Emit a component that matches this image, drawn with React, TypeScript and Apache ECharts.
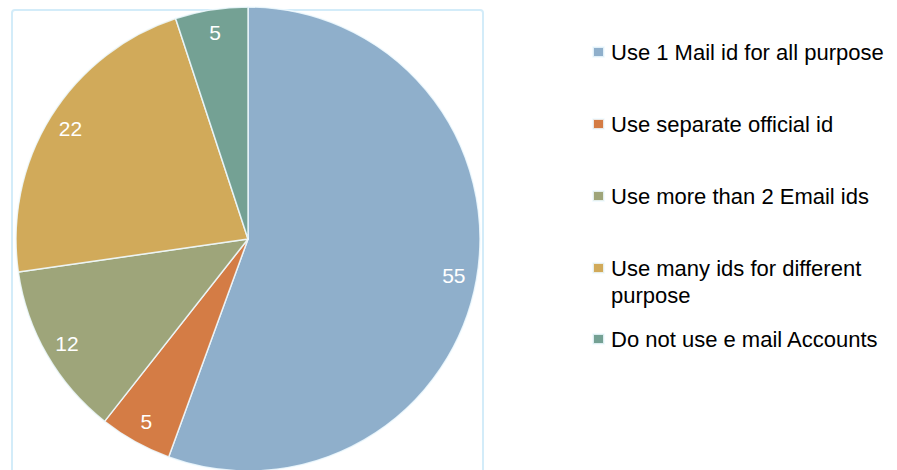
import React, { useEffect, useRef } from "react";
import * as echarts from "echarts";

const categories = [
  "Use 1 Mail id for all purpose",
  "Use separate official id",
  "Use more than 2 Email ids",
  "Use many ids for different purpose",
  "Do not use e mail Accounts",
];
const values = [55, 5, 12, 22, 5];
const colors = ["#8FAFCB", "#D47C45", "#9EA57A", "#D1AA5A", "#74A194"];
const legendCenters = [52, 124, 196, 268, 339];

export default function App() {
  const ref = useRef<HTMLDivElement>(null);
  useEffect(() => {
    if (!ref.current) return;
    const chart = echarts.init(ref.current, null, { renderer: "svg" });
    const font = "'Liberation Sans', Arial, sans-serif";
    const lh = 27;
    const legends = categories.map((name, i) => {
      const multi = name === "Use many ids for different purpose";
      return {
        data: [name],
        orient: "vertical",
        left: 592,
        top: multi ? legendCenters[i] - (lh * 3) / 2 : legendCenters[i] - lh / 2,
        icon: "rect",
        itemWidth: 11,
        itemHeight: 10,
        itemGap: 0,
        padding: 0,
        selectedMode: false,
        formatter: (n: string) =>
          n === "Use many ids for different purpose"
            ? "\nUse many ids for different\npurpose"
            : n,
        textStyle: {
          fontFamily: font,
          fontSize: 22,
          color: "#000",
          lineHeight: lh,
          padding: [0, 0, 0, 2],
        },
      };
    });
    const data = categories.map((name, i) => ({
      name,
      value: values[i],
      itemStyle: { color: colors[i] },
    }));
    chart.setOption({
      animation: false,
      backgroundColor: "#fff",
      legend: legends,
      graphic: [
        {
          type: "rect",
          z: -10,
          shape: { x: 12, y: 10, width: 471, height: 480, r: 3 },
          style: { fill: "none", stroke: "#D3ECF9", lineWidth: 2 },
        },
      ],
      series: [
        {
          type: "pie",
          center: [248, 239],
          radius: 232,
          startAngle: 90,
          clockwise: true,
          silent: true,
          label: { show: false },
          labelLine: { show: false },
          itemStyle: { borderColor: "rgba(240,250,255,0.85)", borderWidth: 1.5 },
          data,
        },
        {
          type: "pie",
          center: [248, 239],
          radius: [180, 232],
          startAngle: 90,
          clockwise: true,
          silent: true,
          z: 5,
          itemStyle: { color: "rgba(0,0,0,0)", borderWidth: 0 },
          label: {
            show: true,
            position: "inside",
            formatter: "{c}",
            color: "#fff",
            fontFamily: font,
            fontSize: 21,
          },
          labelLine: { show: false },
          data: categories.map((name, i) => ({ name, value: values[i] })),
        },
      ],
    });
    return () => chart.dispose();
  }, []);
  return (
    <div
      ref={ref}
      style={{ position: "fixed", left: 0, top: 0, width: 897, height: 470 }}
    />
  );
}
